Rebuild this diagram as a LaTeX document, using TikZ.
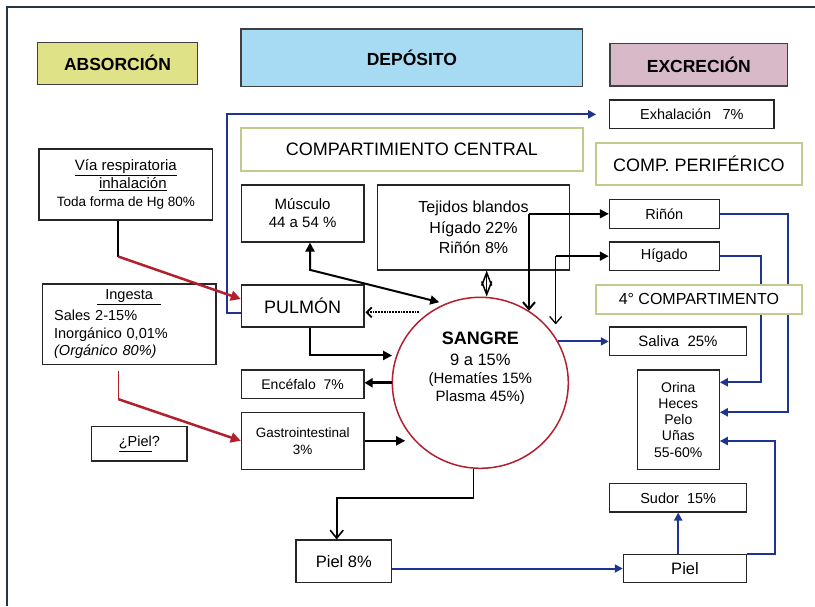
\documentclass[tikz,border=0pt]{standalone}
\usepackage{fontspec}
\setmainfont{Liberation Sans}
\usetikzlibrary{arrows.meta,shapes.geometric}
\definecolor{rojo}{HTML}{B2202D}
\definecolor{azul}{HTML}{1F3490}
\definecolor{verdeclaro}{HTML}{C4CA8C}
\definecolor{amarillo}{HTML}{DFE286}
\definecolor{celeste}{HTML}{A7DAF3}
\definecolor{malva}{HTML}{D8B9C7}
\definecolor{marco}{HTML}{28373F}
\newcommand{\letra}[2]{\fontsize{#1pt}{#2pt}\selectfont}

\begin{document}
\begin{tikzpicture}[x=1pt,y=-1pt,
  caja/.style={draw=black!85,line width=1.1pt,fill=white,inner sep=0pt,align=center},
  verde/.style={draw=verdeclaro,line width=2pt,fill=white,inner sep=0pt},
  titulo/.style={draw=black!75,line width=1.1pt,inner sep=0pt,font=\letra{17.5}{20}\bfseries},
  flecha/.style={line width=2pt,-{Triangle[length=9pt,width=9pt]}},
  abierta/.style={line width=2pt,-{Straight Barb[length=6pt,width=12pt]}},
  azulf/.style={azul,line width=2pt,-{Triangle[length=8pt,width=8pt]}}]

\useasboundingbox (0,0) rectangle (815,606);
\draw[marco,line width=2.2pt] (7,606) -- (7,7) -- (815,7);

\node[titulo,fill=amarillo,minimum width=160.4pt,minimum height=42pt] (absorcion) at (117.5,63.3) {ABSORCIÓN};
\node[titulo,fill=celeste,minimum width=341.7pt,minimum height=57.3pt] (deposito) at (411.85,57.65) {DEPÓSITO};
\node[titulo,fill=malva,minimum width=177.7pt,minimum height=42.7pt] (excrecion) at (698.85,64.65) {EXCRECIÓN};

\node[caja,minimum width=164.3pt,minimum height=28.7pt,font=\letra{14.5}{17}] (exhal) at (691.85,114.35) {Exhalación\hspace{7.5pt} 7\%};
\node[verde,minimum width=341.7pt,minimum height=42.7pt,font=\letra{18}{20}] (central) at (411.85,149.65) {COMPARTIMIENTO CENTRAL};
\node[verde,minimum width=205.7pt,minimum height=42.6pt,font=\letra{18}{20}] (periferico) at (698.85,164) {COMP. PERIFÉRICO};

\node[caja,minimum width=173.7pt,minimum height=71pt,font=\letra{15}{18}] (via) at (125.85,184.5) {\underline{Vía respiratoria}\\ \hspace*{14pt}\underline{inhalación}\\ {\letra{13.5}{16}Toda forma de Hg 80\%}};
\node[caja,minimum width=122.7pt,minimum height=57pt,font=\letra{15}{18}] (musculo) at (302.65,213.5) {Músculo\\44 a 54 \%};
\node[caja,minimum width=191.6pt,minimum height=85pt,font=\letra{16}{20.5}] (tejidos) at (473.5,227.5) {Tejidos blandos\\Hígado 22\%\\Riñón 8\%};
\node[caja,minimum width=122.7pt,minimum height=42pt,font=\letra{18}{20}] (pulmon) at (302.65,306) {PULMÓN};
\node[caja,minimum width=173.7pt,minimum height=80.3pt,text width=150pt,align=left,font=\letra{14.5}{17.3}] (ingesta) at (129.15,324.15) {\makebox[\hsize]{\underline{\hspace{8pt}Ingesta\hspace{8pt}}}\\[4pt]Sales 2-15\%\\Inorgánico 0,01\%\\\textit{(Orgánico 80\%)}};
\node[caja,minimum width=122.7pt,minimum height=28.3pt,font=\letra{14}{16}] (encefalo) at (302.65,384.15) {Encéfalo\ \ 7\%};
\node[caja,minimum width=122.7pt,minimum height=57pt,font=\letra{13.5}{17}] (gastro) at (302.65,440.8) {Gastrointestinal\\3\%};
\node[caja,minimum width=95.3pt,minimum height=34.3pt,font=\letra{14.5}{17}] (pielq) at (139.35,443.85) {\underline{¿Piel}?};
\node[caja,minimum width=95.7pt,minimum height=42.7pt,font=\letra{16.5}{19}] (piel8) at (343.85,561.35) {Piel 8\%};
\node[caja,minimum width=123.4pt,minimum height=28.4pt,font=\letra{16.5}{19}] (piel) at (685,568.5) {Piel};
\node[caja,minimum width=137pt,minimum height=28.3pt,font=\letra{14.5}{17}] (sudor) at (678.2,497.85) {Sudor\ \ 15\%};
\node[caja,minimum width=82pt,minimum height=99.3pt,font=\letra{14}{16.3}] (orina) at (678.3,419.65) {Orina\\Heces\\Pelo\\Uñas\\55-60\%};
\node[caja,minimum width=110pt,minimum height=29pt,font=\letra{14.5}{17}] (rinon) at (664.3,213.8) {Riñón};
\node[caja,minimum width=110pt,minimum height=28.3pt,font=\letra{14.5}{17}] (higado) at (664.3,256.15) {Hígado};
\node[caja,minimum width=137.4pt,minimum height=28.7pt,font=\letra{15}{17}] (saliva) at (678,341.35) {Saliva\ \ 25\%};

\node[ellipse,draw=rojo,line width=1.5pt,minimum width=176pt,minimum height=171pt,inner sep=0pt] (sangre) at (480.3,382.8) {};
\node[align=center,font=\letra{15}{17.5}] (sangret) at (480.3,368.5) {{\letra{18}{21}\bfseries SANGRE}\\[3pt]{\letra{16.5}{19}9 a 15\%}\\[1pt](Hematíes 15\%\\Plasma 45\%)};

\draw[azulf,shorten >=13pt] ([yshift=-6.7pt]pulmon.west) -- ++(-13.3,0) |- (exhal.west);
\draw[line width=2pt] ([xshift=-7.5pt]via.south) -- ++(0,36) coordinate (rv);
\draw[rojo,line width=2.5pt,-{Triangle[length=10pt,width=10pt]}] (rv) -- ([yshift=7pt]pulmon.west);
\draw[rojo,line width=0.8pt] ([xshift=-10.85pt,yshift=-6pt]ingesta.south) -- ++(0,28.3) coordinate (ri);
\draw[rojo,line width=2.5pt,-{Triangle[length=10pt,width=10pt]}] (ri) -- (gastro.west);

\draw[flecha,shorten >=4pt] ([xshift=7.35pt]pulmon.south) |- (sangre.162);
\draw[line width=2pt,{Triangle[length=9pt,width=9pt]}-{Triangle[length=9pt,width=9pt]},shorten >=6pt] ([xshift=7.35pt]musculo.south) -- ++(0,27.3) -- (sangre.114);
\draw[line width=1.8pt,densely dotted,-{Straight Barb[length=5pt,width=10pt]},shorten <=10pt,shorten >=1pt] (sangre.126) -- (sangre.126 -| pulmon.east);
\draw[line width=3pt,-{Triangle[length=8pt,width=9pt]}] (sangre.west) -- (sangre.west -| encefalo.east);
\draw[line width=1.8pt,-{Triangle[length=9pt,width=9pt]},shorten >=10pt] (gastro.east) -- (gastro.east -| sangre.222);
\draw[line width=1.5pt,{Straight Barb[length=13pt,width=10pt]}-{Straight Barb[length=13pt,width=10pt]}] ([xshift=13.2pt]tejidos.south) -- ([xshift=13.2pt]tejidos.south |- sangre.north);

\coordinate (rj) at (529,213.8);
\coordinate (hj) at (555.7,256.15);
\draw[flecha] (rj) -- (rinon.west);
\draw[abierta,-{Straight Barb[length=7pt,width=12pt]}] (rj) -- (rj |- sangre.56);
\draw[flecha] (hj) -- (higado.west);
\draw[line width=1.3pt,-{Straight Barb[length=7pt,width=12pt]},shorten >=2pt] (hj) -- (hj |- saliva.north);
\draw[abierta,line width=1.6pt,-{Straight Barb[length=8pt,width=13pt]}] ([xshift=-7pt]sangre.south) -- ++(0,29) -| ([xshift=-7.15pt]piel8.north);

\draw[azulf] (sangre.28) -- (sangre.28 -| saliva.west);
\draw[azulf] (rinon.east) -- ++(68,0) |- ([yshift=7.35pt]orina.east);
\draw[azulf] (higado.east) -- ++(40.7,0) |- ([yshift=37.35pt]orina.east);
\draw[azulf] (piel8.east |- piel.west) -- (piel.west);
\draw[azulf] (piel.north -| sudor.south) -- (sudor.south);
\draw[azulf] (piel.north east) -- ++(27.3,0) |- ([yshift=-21.35pt]orina.east);

\node[verde,minimum width=205.7pt,minimum height=29.3pt,font=\letra{16}{19}] (cuarto) at (698.85,299.35) {4° COMPARTIMENTO};
\end{tikzpicture}
\end{document}
